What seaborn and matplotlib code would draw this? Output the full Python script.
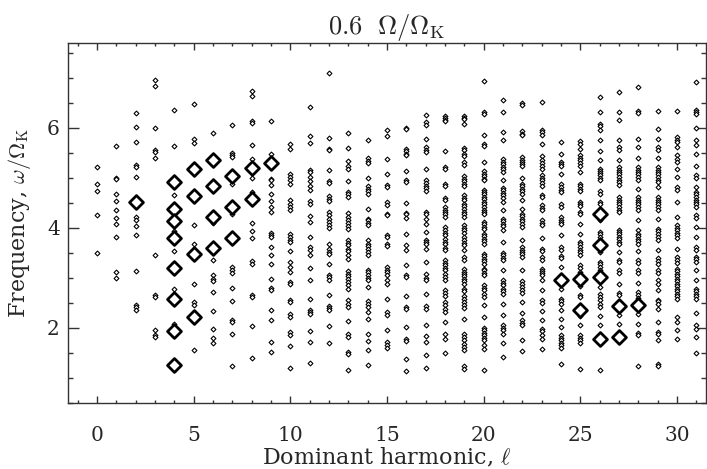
import matplotlib
matplotlib.use("Agg")
import matplotlib.pyplot as plt
from matplotlib.ticker import MultipleLocator
import pandas as pd
import seaborn as sns

# ---- small diamonds: frequencies (omega/Omega_K) per dominant harmonic l ----
L00 = [5.21, 4.88, 4.73, 4.26, 3.50]
L01 = [5.63, 4.99, 4.97, 4.67, 4.53, 4.36, 4.20, 4.07, 3.82, 3.11, 2.99]
L02 = [6.30, 6.01, 5.71, 5.25, 5.22, 5.01, 4.21, 4.16, 4.04, 3.85, 3.13, 2.46, 2.41, 2.36]
L03 = [6.96, 6.83, 6.00, 5.55, 5.51, 5.39, 3.45, 2.65, 2.61, 1.95, 1.85, 1.81]
L04 = [6.35, 5.63, 4.65, 3.93, 3.53, 2.77, 2.07]
L05 = [6.48, 5.78, 5.70, 4.05, 3.67, 2.87, 2.51, 2.45, 1.56]
L06 = [5.89, 4.09, 3.36, 3.05, 2.98, 2.94, 2.71, 2.33, 1.98, 1.79, 1.69]
L07 = [6.05, 5.49, 5.45, 5.41, 4.88, 4.28, 3.21, 3.15, 3.10, 2.80, 2.53, 2.16, 2.11, 1.88, 1.23]
L08 = [6.73, 6.64, 6.13, 6.09, 5.66, 5.38, 5.00, 4.71, 4.09, 3.93, 3.79, 3.33, 3.28,
       2.66, 2.62, 2.03, 1.39]
L09 = [6.14, 5.47, 4.98, 4.95, 4.86, 4.68, 4.53, 4.41, 4.32, 3.89, 3.85, 3.81, 3.61,
       3.45, 3.28, 2.98, 2.80, 2.76, 2.35, 2.16, 1.71, 1.51]
L10 = [5.68, 5.58, 5.08, 5.01, 4.95, 4.87, 4.55, 4.48, 4.41, 4.35, 3.88, 3.81, 3.75,
       3.71, 3.53, 3.31, 3.21, 3.11, 2.91, 2.87, 2.56, 2.51, 2.27, 2.21, 1.91, 1.85,
       1.63, 1.19]
L11 = [6.41, 5.83, 5.70, 5.16, 5.11, 5.01, 4.93, 4.84, 4.75, 4.53, 4.48, 4.23, 4.11,
       3.81, 3.61, 3.56, 3.45, 3.19, 2.96, 2.57, 2.36, 2.31, 2.27, 1.93, 1.71, 1.30]
L12 = [7.09, 5.80, 5.58, 5.55, 5.16, 4.93, 4.89, 4.63, 4.58, 4.53, 4.31, 4.25, 4.17,
       4.11, 4.06, 4.00, 3.68, 3.58, 3.51, 3.48, 3.28, 3.06, 3.01, 2.96, 2.66, 2.43,
       2.39, 2.35, 2.03, 1.70]
L13 = [5.89, 5.60, 5.33, 5.23, 5.18, 4.93, 4.71, 4.67, 4.61, 4.29, 4.21, 4.15, 4.09,
       4.04, 3.98, 3.75, 3.69, 3.65, 3.58, 3.53, 3.46, 3.38, 3.13, 3.08, 3.03, 2.97,
       2.91, 2.85, 2.78, 2.55, 2.48, 2.41, 2.13, 1.88, 1.81, 1.51, 1.48, 1.16]
L14 = [5.75, 5.39, 5.33, 5.29, 5.00, 4.83, 4.78, 4.73, 4.68, 4.38, 4.18, 4.15, 4.09,
       4.05, 3.75, 3.68, 3.63, 3.58, 3.51, 3.45, 3.16, 3.11, 3.05, 2.99, 2.95, 2.81,
       2.53, 2.47, 2.41, 2.31, 2.18, 1.88, 1.73, 1.55, 1.25]
L15 = [5.96, 5.83, 5.37, 5.07, 4.85, 4.81, 4.51, 4.45, 4.28, 4.25, 3.85, 3.81, 3.67,
       3.63, 3.21, 3.16, 3.11, 3.05, 2.95, 2.88, 2.58, 2.31, 2.25, 1.96, 1.71, 1.65, 1.60]
L16 = [6.00, 5.98, 5.58, 5.53, 5.48, 5.45, 5.13, 4.95, 4.91, 4.50, 4.29, 4.27, 4.20,
       3.88, 3.65, 3.55, 3.26, 3.05, 3.01, 2.63, 2.41, 2.38, 2.01, 1.78, 1.73, 1.38, 1.13]
L17 = [6.25, 6.11, 6.05, 5.77, 5.61, 5.56, 5.51, 5.18, 4.95, 4.89, 4.84, 4.79, 4.73,
       4.31, 4.28, 4.18, 4.08, 3.91, 3.75, 3.71, 3.67, 3.58, 3.31, 3.08, 3.00, 2.96,
       2.68, 2.43, 2.38, 2.06, 1.83, 1.71, 1.45, 1.19]
L18 = [6.23, 6.19, 6.16, 6.13, 5.53, 5.21, 5.18, 4.88, 4.83, 4.60, 4.56, 4.41, 4.36,
       4.31, 4.27, 4.21, 4.01, 3.96, 3.89, 3.85, 3.78, 3.71, 3.67, 3.60, 3.55, 3.35,
       3.29, 3.25, 3.19, 3.15, 3.08, 3.01, 2.95, 2.75, 2.69, 2.63, 2.51, 2.45, 2.38,
       2.31, 2.11, 1.88, 1.78, 1.49]
L19 = [6.23, 6.20, 6.17, 6.08, 5.60, 5.55, 5.48, 5.43, 5.31, 5.25, 5.03, 4.98, 4.93,
       4.88, 4.83, 4.65, 4.60, 4.55, 4.48, 4.43, 4.38, 4.31, 4.27, 4.21, 4.05, 4.00,
       3.95, 3.89, 3.81, 3.75, 3.69, 3.65, 3.55, 3.41, 3.35, 3.18, 3.11, 3.08, 3.03,
       2.98, 2.93, 2.88, 2.78, 2.73, 2.63, 2.58, 2.51, 2.45, 2.40, 2.18, 1.88, 1.81,
       1.75, 1.68, 1.61, 1.55, 1.23, 1.18]
L20 = [6.93, 6.31, 6.27, 5.85, 5.68, 5.63, 5.31, 5.13, 5.08, 5.03, 4.98, 4.95, 4.76,
       4.71, 4.67, 4.61, 4.57, 4.51, 4.47, 4.41, 4.36, 4.31, 4.28, 4.11, 4.07, 4.01,
       3.97, 3.88, 3.83, 3.78, 3.73, 3.68, 3.48, 3.43, 3.38, 3.33, 3.28, 3.18, 3.15,
       3.10, 3.05, 2.85, 2.80, 2.75, 2.68, 2.61, 2.45, 2.21, 2.00, 1.95, 1.89, 1.85,
       1.79, 1.75, 1.65, 1.58, 1.16]
L21 = [6.55, 6.31, 5.91, 5.76, 5.38, 5.31, 5.27, 5.21, 5.18, 5.11, 4.96, 4.80, 4.75,
       4.69, 4.65, 4.60, 4.51, 4.35, 4.18, 4.13, 4.08, 4.03, 3.95, 3.71, 3.50, 3.45,
       3.40, 3.35, 3.15, 2.95, 2.89, 2.85, 2.78, 2.73, 2.67, 2.48, 2.25, 2.05, 2.00,
       1.95, 1.88, 1.69, 1.41]
L22 = [6.49, 6.45, 5.93, 5.88, 5.85, 5.41, 5.36, 5.31, 5.27, 5.23, 5.00, 4.88, 4.83,
       4.78, 4.73, 4.68, 4.56, 4.38, 4.28, 4.23, 4.18, 4.13, 4.08, 4.01, 3.75, 3.61,
       3.56, 3.51, 3.47, 3.41, 3.15, 2.93, 2.87, 2.81, 2.76, 2.69, 2.51, 2.29, 2.15,
       2.09, 2.05, 1.75, 1.53]
L23 = [6.51, 5.96, 5.91, 5.86, 5.67, 5.43, 5.35, 5.29, 5.23, 5.18, 5.05, 5.00, 4.95,
       4.89, 4.84, 4.65, 4.61, 4.45, 4.40, 4.36, 4.15, 4.09, 4.05, 3.80, 3.58, 3.53,
       3.41, 3.36, 3.18, 3.13, 3.09, 3.05, 2.96, 2.75, 2.55, 2.49, 2.33, 2.15, 1.98,
       1.93, 1.85, 1.78, 1.58]
L24 = [5.71, 5.48, 5.31, 5.27, 5.23, 5.08, 4.87, 4.81, 4.76, 4.71, 4.47, 4.41, 4.21,
       4.16, 4.11, 4.07, 3.85, 3.61, 3.56, 3.43, 3.39, 3.21, 2.78, 2.58, 2.53, 2.48,
       2.36, 2.18, 2.01, 1.85, 1.79, 1.75, 1.69, 1.65, 1.60, 1.28]
L25 = [5.73, 5.68, 5.58, 5.45, 5.40, 5.35, 5.29, 5.23, 5.11, 4.88, 4.83, 4.78, 4.73,
       4.51, 4.48, 4.43, 4.31, 4.27, 4.08, 3.88, 3.71, 3.67, 3.61, 3.56, 3.51, 3.46,
       3.25, 3.20, 3.11, 2.83, 2.65, 2.61, 2.23, 2.05, 1.85, 1.79, 1.75, 1.69, 1.18]
L26 = [6.61, 6.31, 6.08, 6.03, 5.95, 5.75, 5.53, 5.36, 5.18, 5.13, 5.09, 5.05, 5.00,
       4.95, 4.73, 4.68, 4.51, 4.48, 4.15, 3.91, 3.87, 3.81, 3.76, 3.71, 3.51, 3.31,
       3.27, 3.21, 3.16, 2.95, 2.81, 2.68, 2.61, 2.55, 2.48, 2.41, 2.23, 2.05, 1.15]
L27 = [6.71, 6.31, 6.16, 5.75, 5.61, 5.56, 5.36, 5.21, 5.16, 5.11, 5.07, 5.01, 4.96,
       4.91, 4.85, 4.61, 4.56, 4.51, 4.47, 4.41, 4.36, 4.31, 3.95, 3.91, 3.87, 3.81,
       3.77, 3.71, 3.67, 3.51, 3.35, 3.31, 3.15, 3.09, 2.88, 2.69, 2.65, 2.25, 2.07]
L28 = [6.81, 6.33, 6.29, 5.77, 5.61, 5.39, 5.21, 5.16, 5.11, 5.07, 5.01, 4.96, 4.77,
       4.61, 4.56, 4.51, 4.47, 4.41, 4.36, 4.15, 3.95, 3.88, 3.83, 3.78, 3.73, 3.68,
       3.53, 3.35, 3.29, 3.15, 3.09, 2.89, 2.71, 2.65, 2.60, 2.27, 2.08, 1.89, 1.85, 1.23]
L29 = [6.33, 5.98, 5.78, 5.61, 5.56, 5.40, 5.21, 5.16, 5.11, 5.07, 5.01, 4.96, 4.91,
       4.81, 4.61, 4.56, 4.51, 4.47, 4.41, 4.36, 4.18, 3.98, 3.93, 3.88, 3.81, 3.76,
       3.56, 3.39, 3.33, 3.28, 3.15, 3.09, 2.95, 2.88, 2.75, 2.56, 2.53, 2.48, 2.38,
       2.11, 1.91, 1.88, 1.75, 1.28, 1.23]
L30 = [6.33, 5.81, 5.75, 5.71, 5.61, 5.45, 5.38, 5.31, 5.18, 5.01, 4.81, 4.76, 4.51,
       4.21, 4.05, 4.00, 3.95, 3.89, 3.85, 3.80, 3.58, 3.41, 3.35, 3.29, 3.18, 3.13,
       3.08, 3.03, 2.98, 2.93, 2.88, 2.83, 2.78, 2.73, 2.68, 2.63, 2.58, 2.21, 2.11,
       1.95, 1.78]
L31 = [6.91, 6.36, 6.31, 6.27, 6.00, 5.75, 5.65, 5.48, 5.23, 5.05, 5.00, 4.81, 4.71,
       4.67, 4.61, 4.56, 4.51, 4.47, 4.41, 4.25, 4.20, 4.01, 3.81, 3.61, 3.56, 3.41,
       3.37, 3.31, 3.15, 2.95, 2.78, 2.73, 2.68, 2.63, 2.58, 2.29, 2.05, 1.98, 1.81, 1.49]

SMALL = [L00, L01, L02, L03, L04, L05, L06, L07, L08, L09, L10, L11, L12, L13, L14, L15,
         L16, L17, L18, L19, L20, L21, L22, L23, L24, L25, L26, L27, L28, L29, L30, L31]

# ---- large (highlighted) diamonds ----
BIG_ELL = [2, 4, 4, 4, 4, 4, 4, 4, 4, 5, 5, 5, 5, 6, 6, 6, 6, 7, 7, 7, 8, 8, 9,
           24, 25, 25, 26, 26, 26, 26, 27, 27, 28]
BIG_FREQ = [4.52, 4.91, 4.37, 4.14, 3.80, 3.19, 2.58, 1.93, 1.25, 5.18, 4.63, 3.47, 2.22,
            5.35, 4.83, 4.22, 3.59, 5.03, 4.41, 3.79, 5.19, 4.57, 5.29,
            2.95, 2.98, 2.36, 4.27, 3.65, 3.01, 1.77, 2.43, 1.81, 2.46]

XTICKS = [0, 5, 10, 15, 20, 25, 30]
YTICKS = [2, 4, 6]

rows = [(ell, f) for ell, col in enumerate(SMALL) for f in col]
df_small = pd.DataFrame(rows, columns=["ell", "freq"])
df_big = pd.DataFrame({"ell": BIG_ELL, "freq": BIG_FREQ})

sns.set_theme(style="ticks")
plt.rcParams.update({
    "font.family": ["DejaVu Serif"],
    "mathtext.fontset": "cm",
    "axes.edgecolor": "#333333",
    "axes.linewidth": 1.0,
})

fig = plt.figure(figsize=(7.07, 4.69), dpi=100)
ax = fig.add_axes([68 / 707, 1 - 402.7 / 469, (706 - 68) / 707, (402.7 - 42.7) / 469])

sns.scatterplot(data=df_small, x="ell", y="freq", marker="D", s=6, color="white",
                edgecolor="black", linewidth=0.8, ax=ax, zorder=3)
sns.scatterplot(data=df_big, x="ell", y="freq", marker="D", s=50, color="white",
                edgecolor="black", linewidth=2.0, ax=ax, zorder=4)

ax.set_xlim(-1.5, 31.5)
ax.set_ylim(0.5, 7.7)
ax.set_xticks(XTICKS)
ax.set_yticks(YTICKS)
ax.xaxis.set_minor_locator(MultipleLocator(1))
ax.yaxis.set_minor_locator(MultipleLocator(0.5))
ax.tick_params(which="both", direction="in", top=True, right=True, color="#333333",
               width=1.0, labelsize=14.5)
ax.tick_params(axis="x", which="major", length=5, pad=17)
ax.tick_params(axis="x", which="minor", length=2.5)
ax.tick_params(axis="y", which="major", length=8, pad=6)
ax.tick_params(axis="y", which="minor", length=3.6)

ax.set_xlabel(r"Dominant harmonic, $\ell$", fontsize=16, labelpad=1)
ax.set_ylabel(r"Frequency, $\omega/\Omega_{\rm K}$", fontsize=16, labelpad=10)
ax.set_title(r"$0.6\ \ \Omega/\Omega_{\rm K}$", fontsize=19, pad=6)

fig.savefig("out.png", dpi=100)
